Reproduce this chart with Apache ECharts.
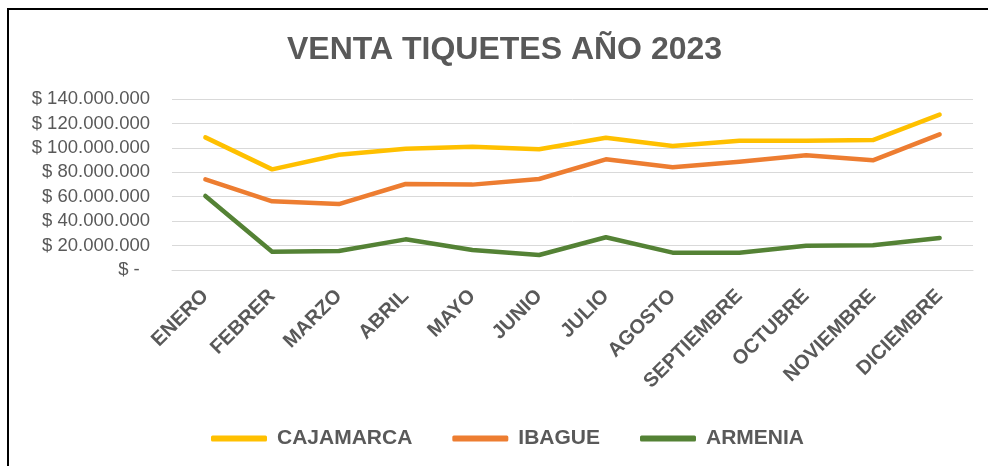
<!DOCTYPE html>
<html>
<head>
<meta charset="UTF-8">
<title>Venta tiquetes 2023</title>
<script src="https://cdn.jsdelivr.net/npm/echarts@6/dist/echarts.min.js"></script>
<style>
  body { margin: 0; background: #fff; }
  #wrap { position: relative; width: 988px; height: 466px; }
  #chart { width: 988px; height: 466px; }
  #frame { position: absolute; left: 7px; top: 8px; right: 0; bottom: 0;
           border-left: 2px solid #000; border-top: 2px solid #000; pointer-events: none; }
</style>
</head>
<body>
<div id="wrap">
  <div id="chart"></div>
  <div id="frame"></div>
</div>
<script>
// meses
var meses = ['ENERO', 'FEBRER', 'MARZO', 'ABRIL', 'MAYO', 'JUNIO', 'JULIO',
             'AGOSTO', 'SEPTIEMBRE', 'OCTUBRE', 'NOVIEMBRE', 'DICIEMBRE'];
// ventas por ciudad (pesos)
var cajamarca = [108600000, 82400000, 94400000, 99300000, 101000000, 98800000,
                 108300000, 101500000, 105900000, 105900000, 106400000, 127200000];
var ibague = [74200000, 56200000, 54000000, 70400000, 69900000, 74500000,
              90600000, 84100000, 88700000, 93900000, 89800000, 111100000];
var armenia = [60600000, 15000000, 15600000, 25100000, 16400000, 12300000,
               26800000, 14200000, 14200000, 19900000, 20300000, 26200000];

var gris = '#595959';

function formatoPesos(v) {
    if (v === 0) return '$ -  ';
    var s = String(v).replace(/\B(?=(\d{3})+(?!\d))/g, '.');
    return '$ ' + s;
}

var chart = echarts.init(document.getElementById('chart'));
var option = {
    animation: false,
    title: {
        text: 'VENTA TIQUETES AÑO 2023',
        left: 282,
        top: 29,
        textStyle: { color: gris, fontSize: 32, fontWeight: 'bold', fontFamily: 'Liberation Sans, Arial' }
    },
    legend: {
        data: ['CAJAMARCA', 'IBAGUE', 'ARMENIA'],
        left: 206,
        top: 423,
        icon: 'roundRect',
        itemWidth: 56,
        itemHeight: 6,
        itemGap: 40,
        textStyle: { color: gris, fontSize: 21, fontWeight: 'bold', fontFamily: 'Liberation Sans, Arial',
                     padding: [0, 0, 0, 5] }
    },
    grid: { left: 172, right: 15, top: 99, bottom: 196 },
    xAxis: {
        type: 'category',
        data: meses,
        boundaryGap: true,
        axisLine: { lineStyle: { color: '#d9d9d9', width: 1 } },
        axisTick: { show: false },
        axisLabel: {
            rotate: 45,
            interval: 0,
            margin: 23,
            color: gris,
            fontSize: 20,
            fontWeight: 'bold',
            fontFamily: 'Liberation Sans, Arial'
        }
    },
    yAxis: {
        type: 'value',
        min: 0,
        max: 140000000,
        interval: 20000000,
        axisLine: { show: false },
        axisTick: { show: false },
        splitLine: { lineStyle: { color: '#d9d9d9', width: 1 } },
        axisLabel: {
            margin: 22,
            color: gris,
            fontSize: 18.5,
            fontFamily: 'Liberation Sans, Arial',
            formatter: formatoPesos
        }
    },
    series: [
        {
            name: 'CAJAMARCA', type: 'line', data: cajamarca, symbol: 'none',
            lineStyle: { color: '#FFC000', width: 4.5, cap: 'round', join: 'round' },
            itemStyle: { color: '#FFC000' }
        },
        {
            name: 'IBAGUE', type: 'line', data: ibague, symbol: 'none',
            lineStyle: { color: '#ED7D31', width: 4.5, cap: 'round', join: 'round' },
            itemStyle: { color: '#ED7D31' }
        },
        {
            name: 'ARMENIA', type: 'line', data: armenia, symbol: 'none',
            lineStyle: { color: '#548235', width: 4.5, cap: 'round', join: 'round' },
            itemStyle: { color: '#548235' }
        }
    ]
};
chart.setOption(option);
</script>
</body>
</html>
